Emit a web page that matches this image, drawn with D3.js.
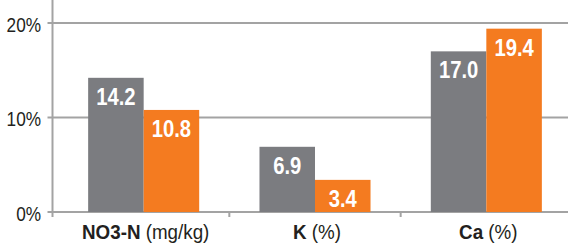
<!DOCTYPE html>
<html lang="en">
<head>
  <meta charset="UTF-8">
  <title>Soil nutrients</title>
  <script src="https://d3js.org/d3.v7.min.js"></script>
  <style>
    body { margin: 0; background: #fff; }
    svg { display: block; }
  </style>
</head>
<body>
  <svg id="chart" width="568" height="244"></svg>
  <script>
    // data
    const categories = ['NO3-N', 'K', 'Ca'];
    const units = ['(mg/kg)', '(%)', '(%)'];
    const series = ['grey', 'orange'];
    const greyValues = [14.2, 6.9, 17.0];
    const orangeValues = [10.8, 3.4, 19.4];
    const yTicks = [0, 10, 20];
    const colors = ['#7b7c80', '#f47b20'];

    const svg = d3.select('svg#chart');
    const width = +svg.attr('width');
    const font = '"Liberation Sans", Arial, sans-serif';

    // scales
    const x = d3.scaleBand().domain(categories).range([58, 572]);
    const x1 = d3.scaleBand().domain(series).range([0, x.bandwidth()]).paddingOuter(0.543);
    const y = d3.scaleLinear().domain([0, 20]).range([212, 23]);

    const axisX = 52.5;
    const lineColor = '#a3a3a3';

    // gridlines (behind bars)
    let grid = svg.append('g').attr('id', 'grid');
    grid.selectAll('line')
      .data(yTicks)
      .join('line')
      .attr('x1', axisX - 5)
      .attr('x2', width)
      .attr('y1', d => y(d))
      .attr('y2', d => y(d))
      .attr('stroke', lineColor)
      .attr('stroke-width', 2);

    // y tick labels, squeezed to look condensed
    svg.append('g').selectAll('text')
      .data(yTicks)
      .join('text')
      .attr('transform', d => 'translate(41,' + (y(d) + 8.5) + ') scale(0.82,1)')
      .attr('text-anchor', 'end')
      .style('font-family', font)
      .style('font-size', '21px')
      .attr('fill', '#231f20')
      .text(d => d + '%');

    // category boundary ticks below the 0 line
    svg.append('g').selectAll('line')
      .data(categories.slice(1).concat(['end']))
      .join('line')
      .attr('x1', (d, i) => x(categories[0]) + x.step() * (i + 1))
      .attr('x2', (d, i) => x(categories[0]) + x.step() * (i + 1))
      .attr('y1', y(0))
      .attr('y2', y(0) + 5)
      .attr('stroke', lineColor)
      .attr('stroke-width', 2);

    // vertical axis line
    svg.append('line')
      .attr('x1', axisX).attr('x2', axisX)
      .attr('y1', 0).attr('y2', y(0) + 5)
      .attr('stroke', lineColor)
      .attr('stroke-width', 2);

    // bars
    const rows = categories.map((c, i) => ({ cat: c, values: [greyValues[i], orangeValues[i]] }));

    let groups = svg.append('g').attr('id', 'bars')
      .selectAll('g')
      .data(rows)
      .join('g')
      .attr('transform', d => 'translate(' + x(d.cat) + ',0)');

    groups.selectAll('rect')
      .data(d => d.values.map((v, j) => ({ key: series[j], v: v, j: j })))
      .join('rect')
      .attr('x', d => x1(d.key))
      .attr('width', x1.bandwidth())
      .attr('y', d => y(d.v))
      .attr('height', d => y(0) - y(d.v))
      .attr('fill', d => colors[d.j]);

    groups.selectAll('text')
      .data(d => d.values.map((v, j) => ({ key: series[j], v: v, j: j })))
      .join('text')
      .attr('transform', d => 'translate(' + (x1(d.key) + x1.bandwidth() / 2) + ',' + (y(d.v) + 27) + ') scale(0.88,1)')
      .attr('text-anchor', 'middle')
      .attr('fill', '#fff')
      .style('font-family', font)
      .style('font-weight', 'bold')
      .style('font-size', '23px')
      .text(d => d3.format('.1f')(d.v));

    // category labels
    let labels = svg.append('g').selectAll('text')
      .data(categories)
      .join('text')
      .attr('transform', d => 'translate(' + (x(d) + x.bandwidth() / 2 + 2) + ',239) scale(0.94,1)')
      .attr('text-anchor', 'middle')
      .attr('fill', '#231f20')
      .style('font-family', font)
      .style('font-size', '20px');

    labels.append('tspan')
      .style('font-weight', 'bold')
      .text(d => d);
    labels.append('tspan')
      .text((d, i) => ' ' + units[i]);
  </script>
</body>
</html>
